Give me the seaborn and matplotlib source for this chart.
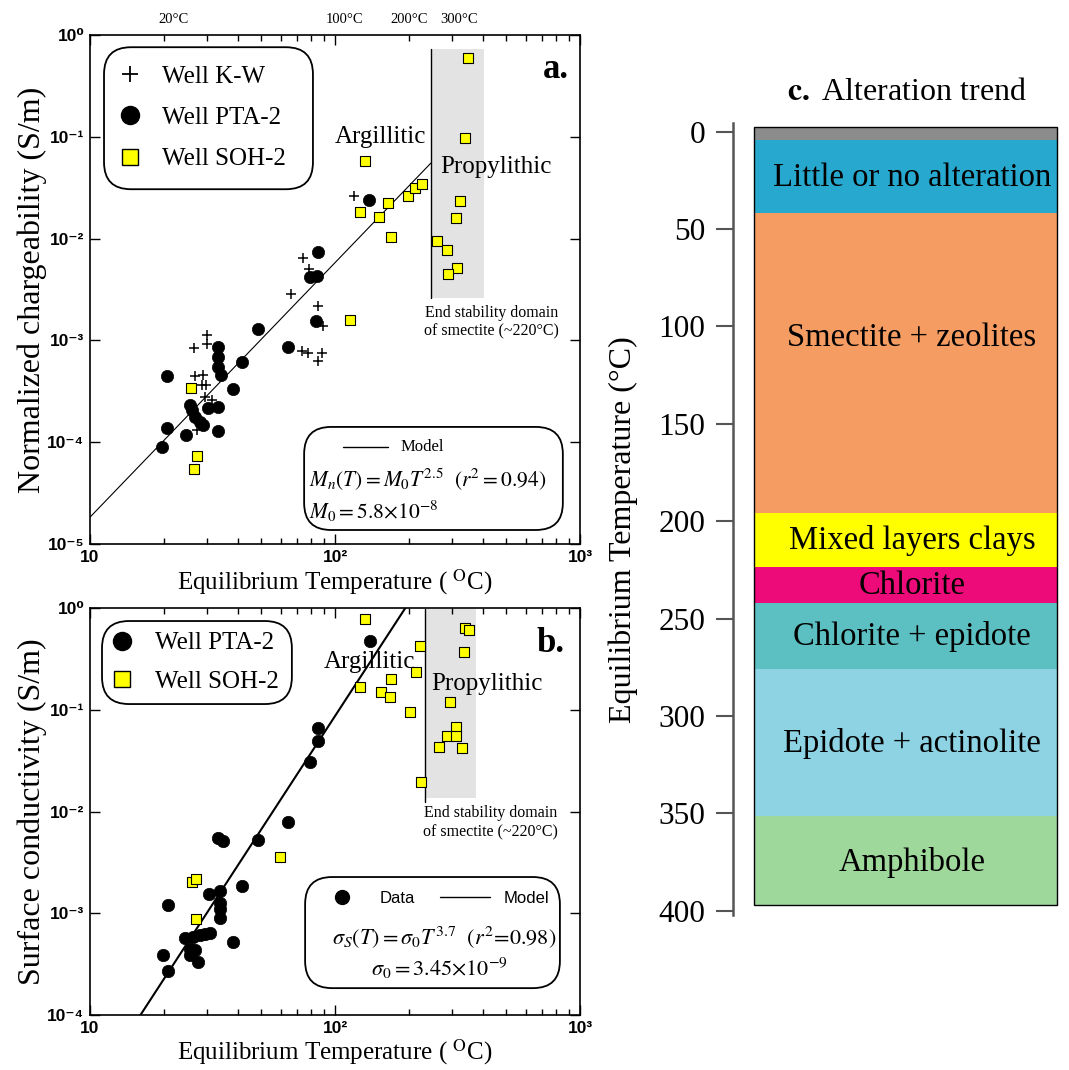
import numpy as np
import pandas as pd
import matplotlib
matplotlib.use("Agg")
import matplotlib.pyplot as plt
import seaborn as sns
from matplotlib.patches import FancyBboxPatch, Rectangle
from matplotlib.lines import Line2D
from matplotlib.ticker import LogLocator, NullLocator, NullFormatter

# ------------------------------------------------------------------ data
# Panel a : normalized chargeability vs equilibrium temperature
kw_T = [119, 73.8, 78.5, 65.9, 84.9, 89.6, 73.1, 77.8, 88.7, 85.5,
        26.5, 30.1, 30.1, 26.8, 29.0, 28.6, 29.7, 29.4, 31.6, 27.3]
kw_M = [0.0264, 0.0065, 0.005, 0.00284, 0.00218, 0.0014, 7.9e-4, 7.5e-4, 7.6e-4, 6.3e-4,
        8.4e-4, 1.13e-3, 9.3e-4, 4.47e-4, 4.57e-4, 3.66e-4, 3.66e-4, 2.8e-4, 2.6e-4, 1.32e-4]

pta_a_T = [138, 84.9, 79, 84.1, 48.3, 83.6, 64.1, 33.4, 33.4, 33.4, 34.4, 41.6, 38.5,
           20.7, 25.6, 26.0, 26.8, 28.1, 28.8, 30.4, 33.4, 20.7, 24.6, 33.4, 19.6]
pta_a_M = [0.0239, 0.00744, 0.00417, 0.0043, 0.00129, 0.00156, 8.67e-4, 8.7e-4, 6.9e-4,
           5.5e-4, 4.57e-4, 6.18e-4, 3.3e-4, 4.47e-4, 2.32e-4, 2.07e-4, 1.78e-4, 1.59e-4,
           1.48e-4, 2.15e-4, 2.23e-4, 1.37e-4, 1.18e-4, 1.3e-4, 9.0e-5]

soh_a_T = [348, 340, 133, 126, 151, 165, 169, 199, 212, 227, 324, 312, 262, 286, 316, 290,
           115, 25.8, 27.4, 26.6]
soh_a_M = [0.59, 0.097, 0.058, 0.0181, 0.0164, 0.0222, 0.0103, 0.0264, 0.0316, 0.034,
           0.0234, 0.016, 0.0095, 0.0077, 0.0051, 0.00446, 0.00159, 3.43e-4, 7.4e-5, 5.5e-5]

# Panel b : surface conductivity vs equilibrium temperature
pta_b_T = [139, 84.9, 84.9, 79, 64.4, 33.4, 34.8, 48.6, 41.6, 30.6, 34.0, 34.0, 34.0, 34.0,
           20.8, 38.5, 24.5, 26.4, 28.1, 29.4, 30.9, 25.6, 25.6, 26.8, 27.7, 19.8, 20.8]
pta_b_S = [0.477, 0.0656, 0.0492, 0.0304, 0.00781, 0.00552, 0.0051, 0.0053, 0.00186,
           0.00156, 0.00165, 0.00125, 0.00111, 9.0e-4, 0.0012, 5.2e-4, 5.65e-4, 5.86e-4,
           6.1e-4, 6.3e-4, 6.4e-4, 4.5e-4, 3.87e-4, 4.34e-4, 3.33e-4, 3.87e-4, 2.72e-4]

soh_b_T = [132, 222, 340, 352, 336, 215, 169, 127, 154, 167.5, 202, 294, 312, 286, 312,
           266, 331, 224, 59.7, 26.0, 27.2, 27.2]
soh_b_S = [0.774, 0.423, 0.64, 0.61, 0.37, 0.236, 0.2, 0.166, 0.148, 0.134, 0.0955, 0.12,
           0.068, 0.055, 0.055, 0.0433, 0.0423, 0.0196, 0.00359, 0.00204, 0.00216, 8.7e-4]

# power-law models printed on the chart
M0, exp_a = 5.8e-8, 2.5
s0, exp_b = 3.45e-9, 3.7
model_a_T = [10, 246]
model_b_T = [10, 260]

# smectite stability limit and propylitic band
limit_a_T, band_a = 246, [246, 405]
band_a_y = [0.0026, 0.73]
limit_b_T, band_b = 232, [232, 378]
band_b_y = [0.0135, 0.97]

x_ticks = [10, 100, 1000]
x_ticklabels = ["10", "10²", "10³"]
ya_ticks = [1, 1e-1, 1e-2, 1e-3, 1e-4, 1e-5]
ya_ticklabels = ["10⁰", "10⁻¹", "10⁻²", "10⁻³", "10⁻⁴", "10⁻⁵"]
yb_ticks = [1, 1e-1, 1e-2, 1e-3, 1e-4]
yb_ticklabels = ["10⁰", "10⁻¹", "10⁻²", "10⁻³", "10⁻⁴"]
top_T = [22, 109, 200, 320]
top_labels = ["20°C", "100°C", "200°C", "300°C"]

# Panel c : alteration zones
zone_names = ["", "Little or no alteration", "Smectite + zeolites", "Mixed layers clays",
              "Chlorite", "Chlorite + epidote", "Epidote + actinolite", "Amphibole"]
zone_top = [-2.5, 4.5, 42, 196, 223.5, 242, 276, 351.5]
zone_bottom = [4.5, 42, 196, 223.5, 242, 276, 351.5, 397]
zone_label_T = [None, 23.5, 106, 210, 233, 259, 314, 375]
zone_colors = ["#8c8c8c", "#27a9cf", "#f59c63", "#ffff00", "#ec0b78",
               "#5cc0c2", "#8dd3e4", "#9fd89b"]
c_ticks = [0, 50, 100, 150, 200, 250, 300, 350, 400]

# ------------------------------------------------------------------ style
sns.set_style("ticks")
plt.rcParams["font.family"] = ["Liberation Serif", "DejaVu Serif"]
plt.rcParams["mathtext.fontset"] = "stix"
for k in ["text.color", "axes.labelcolor", "xtick.color", "ytick.color", "axes.edgecolor"]:
    plt.rcParams[k] = "black"
SANS = ["Liberation Sans", "DejaVu Sans"]

W, H = 1069, 1070
fig = plt.figure(figsize=(W / 100, H / 100), dpi=100)
ax_a = fig.add_axes([90 / W, 1 - 544 / H, 490 / W, 509 / H])
ax_b = fig.add_axes([90 / W, 1 - 1015 / H, 490 / W, 407 / H])
ax_c = fig.add_axes([733 / W, 1 - 914.6 / H, 327 / W, 791.3 / H])

def style_log_axes(ax, yticks, ylabels):
    ax.set_xscale("log")
    ax.set_yscale("log")
    ax.set_xlim(10, 1000)
    ax.set_xticks(x_ticks)
    ax.set_xticklabels(x_ticklabels, fontfamily=SANS, fontsize=12.5, fontweight="bold")
    ax.xaxis.set_minor_locator(LogLocator(base=10, subs=np.arange(2, 10)))
    ax.xaxis.set_minor_formatter(NullFormatter())
    ax.set_yticks(yticks)
    ax.set_yticklabels(ylabels, fontfamily=SANS, fontsize=12.5, fontweight="bold")
    ax.yaxis.set_minor_locator(NullLocator())
    ax.tick_params(which="both", direction="in", top=True, right=True, width=1.0)
    ax.tick_params(which="major", length=7, pad=4)
    ax.tick_params(which="minor", length=4)
    for s in ax.spines.values():
        s.set_linewidth(1.2)
        s.set_color("black")

def round_box(ax, x0, y0, x1, y1, aspect):
    p = FancyBboxPatch((x0, y0), x1 - x0, y1 - y0,
                       boxstyle="round,pad=0,rounding_size=0.055",
                       mutation_aspect=aspect, transform=ax.transAxes,
                       facecolor="white", edgecolor="black", lw=1.3, zorder=5)
    ax.add_patch(p)

# ------------------------------------------------------------------ panel a
df_kw = pd.DataFrame({"T": kw_T, "M": kw_M})
df_pa = pd.DataFrame({"T": pta_a_T, "M": pta_a_M})
df_sa = pd.DataFrame({"T": soh_a_T, "M": soh_a_M})
df_ma = pd.DataFrame({"T": model_a_T, "M": [M0 * t ** exp_a for t in model_a_T]})

ax_a.fill_between(band_a, band_a_y[0], band_a_y[1], color="#e3e3e3", lw=0, zorder=0)
ax_a.plot([limit_a_T, limit_a_T], band_a_y, color="black", lw=1.0, zorder=1)
sns.lineplot(data=df_ma, x="T", y="M", ax=ax_a, color="black", lw=0.8, zorder=2)
sns.scatterplot(data=df_kw, x="T", y="M", ax=ax_a, marker="+", color="black",
                s=45, linewidth=1.1, zorder=3)
sns.scatterplot(data=df_pa, x="T", y="M", ax=ax_a, marker="o", color="black",
                s=78, edgecolor="black", linewidth=0.5, zorder=4)
sns.scatterplot(data=df_sa, x="T", y="M", ax=ax_a, marker="s", color="#ffff00",
                s=50, edgecolor="black", linewidth=0.8, zorder=4)
style_log_axes(ax_a, ya_ticks, ya_ticklabels)
ax_a.set_ylim(1e-5, 1)
ax_a.set_xlabel("Equilibrium Temperature ( $^{\\mathrm{O}}$C)", fontsize=18)
ax_a.set_ylabel("Normalized chargeability (S/m)", fontsize=23)
ax_a.xaxis.set_label_coords(0.5, -0.045)
ax_a.yaxis.set_label_coords(-0.087, 0.5)

for t, lab in zip(top_T, top_labels):
    ax_a.text(t, 1.031, lab, transform=ax_a.get_xaxis_transform(), ha="center",
              va="center", fontsize=10.5)

# legend a
round_box(ax_a, 0.0286, 0.697, 0.455, 0.976, 490 / 509)
h_a = [Line2D([], [], marker="+", ls="", color="black", markersize=12, mew=1.3),
       Line2D([], [], marker="o", ls="", color="black", markersize=13),
       Line2D([], [], marker="s", ls="", mfc="#ffff00", mec="black", markersize=12, mew=1.0)]
leg = ax_a.legend(h_a, ["Well K-W", "Well PTA-2", "Well SOH-2"], loc="center left",
                  bbox_to_anchor=(0.025, 0.837), frameon=False, fontsize=18,
                  handletextpad=0.7, labelspacing=0.75, handlelength=1.2, borderpad=0)
leg.set_zorder(6)

# model box a
round_box(ax_a, 0.437, 0.0275, 0.965, 0.23, 490 / 509)
ax_a.plot([0.516, 0.608], [0.191, 0.191], transform=ax_a.transAxes, color="black",
          lw=1.0, zorder=6)
ax_a.text(0.633, 0.191, "Model", transform=ax_a.transAxes, fontsize=12, va="center",
          zorder=6)
ax_a.text(0.447, 0.126, r"$M_{n}(T) = M_{0}T^{2.5}\ \ (r^{2} = 0.94)$",
          transform=ax_a.transAxes, fontsize=15.5, va="center", zorder=6)
ax_a.text(0.447, 0.065, r"$M_{0} = 5.8{\times}10^{-8}$", transform=ax_a.transAxes,
          fontsize=15.5, va="center", zorder=6)

ax_a.text(0.592, 0.80, "Argillitic", transform=ax_a.transAxes, fontsize=18,
          ha="center", va="center")
ax_a.text(0.829, 0.74, "Propylithic", transform=ax_a.transAxes, fontsize=18,
          ha="center", va="center")
ax_a.text(0.951, 0.933, "a.", transform=ax_a.transAxes, fontsize=25,
          fontweight="bold", ha="center", va="center")
ax_a.text(0.82, 0.436, "End stability domain\nof smectite (~220°C)",
          transform=ax_a.transAxes, fontsize=11.5, ha="center", va="center",
          linespacing=1.25)

# ------------------------------------------------------------------ panel b
df_pb = pd.DataFrame({"T": pta_b_T, "S": pta_b_S})
df_sb = pd.DataFrame({"T": soh_b_T, "S": soh_b_S})
df_mb = pd.DataFrame({"T": model_b_T, "S": [s0 * t ** exp_b for t in model_b_T]})

ax_b.fill_between(band_b, band_b_y[0], band_b_y[1], color="#e3e3e3", lw=0, zorder=0)
ax_b.plot([limit_b_T, limit_b_T], [band_b_y[0] * 0.92, band_b_y[1]], color="black",
          lw=1.0, zorder=1)
sns.lineplot(data=df_mb, x="T", y="S", ax=ax_b, color="black", lw=1.5, zorder=2)
sns.scatterplot(data=df_pb, x="T", y="S", ax=ax_b, marker="o", color="black",
                s=80, edgecolor="black", linewidth=0.5, zorder=4)
sns.scatterplot(data=df_sb, x="T", y="S", ax=ax_b, marker="s", color="#ffff00",
                s=55, edgecolor="black", linewidth=0.8, zorder=4)
style_log_axes(ax_b, yb_ticks, yb_ticklabels)
ax_b.set_ylim(1e-4, 1)
ax_b.set_xlabel("Equilibrium Temperature ( $^{\\mathrm{O}}$C)", fontsize=18)
ax_b.set_ylabel("Surface conductivity (S/m)", fontsize=23)
ax_b.xaxis.set_label_coords(0.5, -0.055)
ax_b.yaxis.set_label_coords(-0.087, 0.5)

round_box(ax_b, 0.0245, 0.764, 0.412, 0.968, 490 / 407)
h_b = [Line2D([], [], marker="o", ls="", color="black", markersize=13),
       Line2D([], [], marker="s", ls="", mfc="#ffff00", mec="black", markersize=12, mew=1.0)]
leg_b = ax_b.legend(h_b, ["Well PTA-2", "Well SOH-2"], loc="center left",
                    bbox_to_anchor=(0.01, 0.866), frameon=False, fontsize=18,
                    handletextpad=0.7, labelspacing=0.65, handlelength=1.2, borderpad=0)
leg_b.set_zorder(6)

round_box(ax_b, 0.439, 0.066, 0.959, 0.339, 490 / 407)
h_m = [Line2D([], [], marker="o", ls="", color="black", markersize=10),
       Line2D([], [], color="black", lw=1.0)]
leg_m = ax_b.legend(h_m, ["Data", "Model"], loc="center", bbox_to_anchor=(0.70, 0.287),
                    frameon=False, ncol=2, prop={"family": SANS, "size": 12},
                    handlelength=3.0, columnspacing=1.5, handletextpad=0.8, borderpad=0)
leg_m.set_zorder(6)
ax_b.add_artist(leg_b)
ax_b.text(0.722, 0.192, r"$\sigma_{S}(T) = \sigma_{0}T^{3.7}\ \ (r^{2}\!=\!0.98)$",
          transform=ax_b.transAxes, fontsize=16, ha="center", va="center", zorder=6)
ax_b.text(0.714, 0.115, r"$\sigma_{0} = 3.45{\times}10^{-9}$", transform=ax_b.transAxes,
          fontsize=16, ha="center", va="center", zorder=6)

ax_b.text(0.571, 0.868, "Argillitic", transform=ax_b.transAxes, fontsize=18,
          ha="center", va="center")
ax_b.text(0.81, 0.814, "Propylithic", transform=ax_b.transAxes, fontsize=18,
          ha="center", va="center")
ax_b.text(0.939, 0.914, "b.", transform=ax_b.transAxes, fontsize=25,
          fontweight="bold", ha="center", va="center")
ax_b.text(0.817, 0.472, "End stability domain\nof smectite (~220°C)",
          transform=ax_b.transAxes, fontsize=11.5, ha="center", va="center",
          linespacing=1.25)

# ------------------------------------------------------------------ panel c
heights = [b - t for t, b in zip(zone_top, zone_bottom)]
ax_c.bar(x=0.5275, height=heights, bottom=zone_top, width=0.927, color=zone_colors,
         edgecolor="none", zorder=1)
ax_c.add_patch(Rectangle((0.064, zone_top[0]), 0.927, zone_bottom[-1] - zone_top[0],
                         fill=False, edgecolor="black", lw=1.0, zorder=2))
for name, yt in zip(zone_names, zone_label_T):
    if yt is not None:
        ax_c.text(0.547, yt, name, ha="center", va="center", fontsize=23.5, zorder=3)
ax_c.set_xlim(0, 1)
ax_c.set_ylim(402, -4.3)
ax_c.set_xticks([])
ax_c.set_yticks(c_ticks)
ax_c.set_yticklabels([str(v) for v in c_ticks], fontsize=22.5)
for s in ["top", "right", "bottom"]:
    ax_c.spines[s].set_visible(False)
ax_c.spines["left"].set_color("#555555")
ax_c.spines["left"].set_linewidth(1.8)
ax_c.tick_params(axis="y", direction="out", length=12, width=1.5, color="#555555", pad=8)
ax_c.set_facecolor("none")

fig.text(623 / W, 1 - 530 / H, "Equilibrium Temperature (°C)", rotation=90,
         ha="center", va="center", fontsize=23)
fig.text(907 / W, 1 - 92 / H, r"$\mathbf{c.}$ Alteration trend", ha="center",
         va="center", fontsize=23)

fig.savefig("out.png", dpi=100)
